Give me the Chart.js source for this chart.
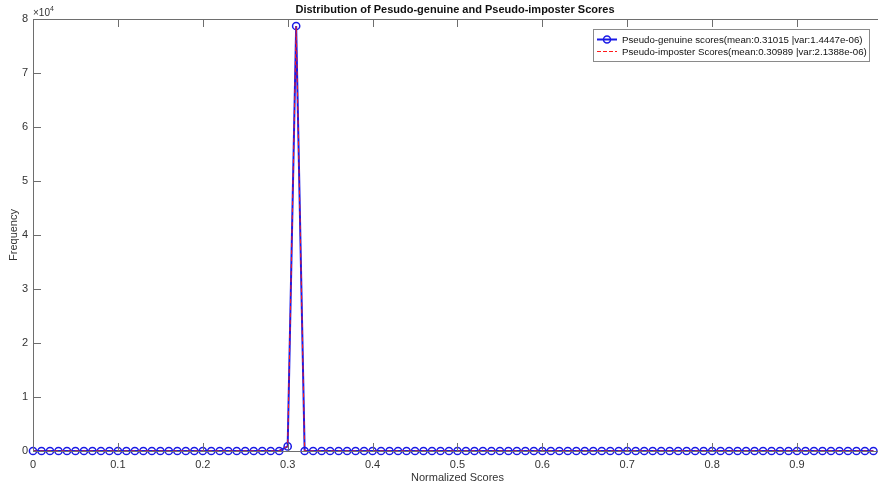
<!DOCTYPE html>
<html>
<head>
<meta charset="utf-8">
<script src="https://cdn.jsdelivr.net/npm/chart.js@4/dist/chart.umd.min.js"></script>
<style>
html,body{margin:0;padding:0;background:#fff;overflow:hidden;}
canvas{display:block;}
</style>
</head>
<body>
<canvas id="c" width="887" height="487" style="width:887px;height:487px;"></canvas>
<script>
const scores = [0.00,0.01,0.02,0.03,0.04,0.05,0.06,0.07,0.08,0.09,
0.10,0.11,0.12,0.13,0.14,0.15,0.16,0.17,0.18,0.19,
0.20,0.21,0.22,0.23,0.24,0.25,0.26,0.27,0.28,0.29,
0.30,0.31,0.32,0.33,0.34,0.35,0.36,0.37,0.38,0.39,
0.40,0.41,0.42,0.43,0.44,0.45,0.46,0.47,0.48,0.49,
0.50,0.51,0.52,0.53,0.54,0.55,0.56,0.57,0.58,0.59,
0.60,0.61,0.62,0.63,0.64,0.65,0.66,0.67,0.68,0.69,
0.70,0.71,0.72,0.73,0.74,0.75,0.76,0.77,0.78,0.79,
0.80,0.81,0.82,0.83,0.84,0.85,0.86,0.87,0.88,0.89,
0.90,0.91,0.92,0.93,0.94,0.95,0.96,0.97,0.98,0.99];
const genuine = [0,0,0,0,0,0,0,0,0,0,
0,0,0,0,0,0,0,0,0,0,
0,0,0,0,0,0,0,0,0,0,
850,78700,0,0,0,0,0,0,0,0,
0,0,0,0,0,0,0,0,0,0,
0,0,0,0,0,0,0,0,0,0,
0,0,0,0,0,0,0,0,0,0,
0,0,0,0,0,0,0,0,0,0,
0,0,0,0,0,0,0,0,0,0,
0,0,0,0,0,0,0,0,0,0];
const imposter = [0,0,0,0,0,0,0,0,0,0,
0,0,0,0,0,0,0,0,0,0,
0,0,0,0,0,0,0,0,0,0,
900,78650,0,0,0,0,0,0,0,0,
0,0,0,0,0,0,0,0,0,0,
0,0,0,0,0,0,0,0,0,0,
0,0,0,0,0,0,0,0,0,0,
0,0,0,0,0,0,0,0,0,0,
0,0,0,0,0,0,0,0,0,0,
0,0,0,0,0,0,0,0,0,0];
const xTicks = [0,0.1,0.2,0.3,0.4,0.5,0.6,0.7,0.8,0.9];
const yTicks = [0,1,2,3,4,5,6,7,8];
const titleText = 'Distribution of Pesudo-genuine and Pseudo-imposter Scores';
const legendLabels = ['Pseudo-genuine scores(mean:0.31015 |var:1.4447e-06)','Pseudo-imposter Scores(mean:0.30989 |var:2.1388e-06)'];

const FONT = '"Liberation Sans", Arial, Helvetica, sans-serif';
const AXIS = '#6e6e6e';
const TXT = '#333333';
const BLUE = '#1a1ae6';
const RED = '#ff1a1a';

const deco = {
  id:'deco',
  afterDatasetsDraw(chart){
    const ctx = chart.ctx, a = chart.chartArea;
    const xs = chart.scales.x, ys = chart.scales.y;
    ctx.save();
    ctx.strokeStyle = AXIS; ctx.lineWidth = 1;
    ctx.beginPath();
    ctx.moveTo(Math.round(a.left)+0.5, a.bottom); ctx.lineTo(Math.round(a.left)+0.5, a.top);
    ctx.moveTo(a.left, Math.round(a.top)+0.5); ctx.lineTo(a.right, Math.round(a.top)+0.5);
    ctx.moveTo(a.left, Math.round(a.bottom)+0.5); ctx.lineTo(a.right, Math.round(a.bottom)+0.5);
    xTicks.forEach(v=>{
      const px = Math.round(xs.getPixelForValue(v))+0.5;
      ctx.moveTo(px, a.bottom); ctx.lineTo(px, a.bottom-8);
      ctx.moveTo(px, a.top); ctx.lineTo(px, a.top+8);
    });
    yTicks.forEach(v=>{
      const py = Math.round(ys.getPixelForValue(v*10000))+0.5;
      ctx.moveTo(a.left, py); ctx.lineTo(a.left+8, py);
    });
    ctx.stroke();
    ctx.fillStyle = '#111';
    ctx.font = 'bold 11px ' + FONT;
    ctx.textAlign = 'center'; ctx.textBaseline = 'middle';
    ctx.fillText(titleText, 455, 10);
    ctx.fillStyle = TXT;
    ctx.font = '10px ' + FONT;
    ctx.textAlign = 'left';
    ctx.fillText('\u00d710', 33, 13);
    ctx.font = '7px ' + FONT;
    ctx.fillText('4', 50, 9);
    const lx = 593.5, ly = 29.5, lw = 276, lh = 32;
    ctx.fillStyle = '#fff';
    ctx.fillRect(lx, ly, lw, lh);
    ctx.strokeStyle = '#8a8a8a'; ctx.lineWidth = 1;
    ctx.strokeRect(lx, ly, lw, lh);
    ctx.strokeStyle = BLUE; ctx.lineWidth = 2;
    ctx.beginPath(); ctx.moveTo(597, 39.5); ctx.lineTo(617, 39.5); ctx.stroke();
    ctx.lineWidth = 1.5;
    ctx.beginPath(); ctx.arc(607, 39.5, 3.5, 0, Math.PI*2); ctx.stroke();
    ctx.strokeStyle = RED; ctx.lineWidth = 1;
    ctx.setLineDash([4,2]);
    ctx.beginPath(); ctx.moveTo(597, 51.5); ctx.lineTo(617, 51.5); ctx.stroke();
    ctx.setLineDash([]);
    ctx.fillStyle = '#111';
    ctx.font = '9.7px ' + FONT;
    ctx.textAlign = 'left'; ctx.textBaseline = 'middle';
    ctx.fillText(legendLabels[0], 622, 40);
    ctx.fillText(legendLabels[1], 622, 52);
    ctx.restore();
  }
};

new Chart(document.getElementById('c'), {
  type:'line',
  data:{
    datasets:[
      {label:legendLabels[0], data:scores.map((s,i)=>({x:s,y:genuine[i]})),
       borderColor:BLUE, borderWidth:2, pointRadius:3.6, pointHoverRadius:3.6,
       pointBorderColor:BLUE, pointBackgroundColor:'rgba(0,0,0,0)', pointBorderWidth:1.5,
       tension:0, clip:false, order:1},
      {label:legendLabels[1], data:scores.map((s,i)=>({x:s,y:imposter[i]})),
       borderColor:RED, borderWidth:1, borderDash:[4,3], pointRadius:0,
       tension:0, clip:false, order:0}
    ]
  },
  options:{
    responsive:false, animation:false, devicePixelRatio:1,
    layout:{padding:{top:19,right:0,left:0,bottom:0}},
    plugins:{legend:{display:false}, title:{display:false}, tooltip:{enabled:false}},
    events:[],
    scales:{
      x:{type:'linear', min:0, max:1,
         border:{display:false},
         grid:{display:false, drawTicks:false},
         afterBuildTicks(s){ s.ticks = xTicks.map(v=>({value:v})); },
         ticks:{autoSkip:false, maxRotation:0, padding:7, color:TXT, font:{family:FONT,size:11},
                callback:(v)=> String(Math.round(v*10)/10)},
         title:{display:true, text:'Normalized Scores', color:TXT, font:{family:FONT,size:11}, padding:{top:0,bottom:2}},
         afterFit(s){ s.height = 36; }
      },
      y:{min:0, max:80000,
         border:{display:false},
         grid:{display:false, drawTicks:false},
         afterBuildTicks(s){ s.ticks = yTicks.map(v=>({value:v*10000})); },
         ticks:{autoSkip:false, padding:5, color:TXT, font:{family:FONT,size:11},
                callback:(v)=> String(Math.round(v/10000))},
         title:{display:true, text:'Frequency', color:TXT, font:{family:FONT,size:11}, padding:{top:7,bottom:0}},
         afterFit(s){ s.width = 33; }
      }
    }
  },
  plugins:[deco]
});
</script>
</body>
</html>
